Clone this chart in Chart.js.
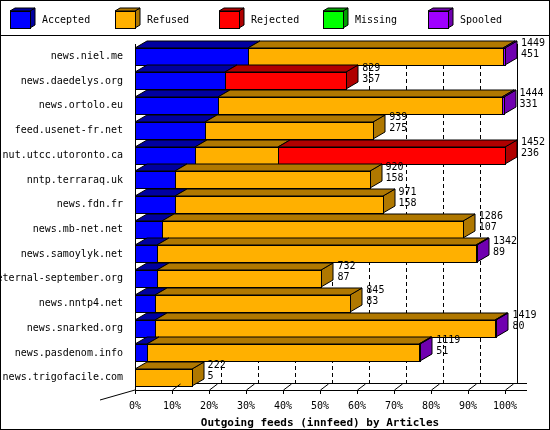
<!DOCTYPE html>
<html><head><meta charset="utf-8">
<script src="https://cdn.jsdelivr.net/npm/chart.js@4"></script>
<style>body{margin:0;background:#fff}#w{width:550px;height:430px;position:relative}</style>
</head><body><div id="w"><canvas id="c" width="550" height="430"></canvas></div>
<script>
const categories=["news.niel.me","news.daedelys.org","news.ortolo.eu","feed.usenet-fr.net","nut.utcc.utoronto.ca","nntp.terraraq.uk","news.fdn.fr","news.mb-net.net","news.samoylyk.net","eternal-september.org","news.nntp4.net","news.snarked.org","news.pasdenom.info","news.trigofacile.com"];
const accepted=[30.5,24.3,22.4,19,16.2,10.8,10.8,7.3,6,6,5.4,5.4,3.2,0];
const refused=[69,0,76.8,45.4,22.4,52.6,56.1,81.3,86.1,44.4,52.8,91.9,73.5,15.3];
const rejected=[0,32.8,0,0,61.4,0,0,0,0,0,0,0,0,0];
const missing=[0,0,0,0,0,0,0,0,0,0,0,0,0,0];
const spooled=[0.5,0,0.4,0,0,0,0,0,0.3,0,0,0.4,0.4,0];
const totals=["1449","829","1444","939","1452","920","971","1286","1342","732","845","1419","1119","222"];
const seconds=["451","357","331","275","236","158","158","107","89","87","83","80","51","5"];
const tickLabels=["0%","10%","20%","30%","40%","50%","60%","70%","80%","90%","100%"];
const names=["Accepted","Refused","Rejected","Missing","Spooled"];
const front=["#0000ff","#ffb000","#ff0000","#00ff00","#a000ff"];
const dark=["#0000a0","#b07800","#b00000","#00a000","#7000b0"];
const FONT="10px 'DejaVu Sans Mono'";
function box(ctx,x,y,w,h,i,DX,DY){
  ctx.lineWidth=1;ctx.strokeStyle="#000";
  ctx.fillStyle=dark[i];
  ctx.beginPath();ctx.moveTo(x+w,y);ctx.lineTo(x+w+DX,y-DY);ctx.lineTo(x+w+DX,y+h-DY);ctx.lineTo(x+w,y+h);ctx.closePath();ctx.fill();ctx.stroke();
  ctx.beginPath();ctx.moveTo(x,y);ctx.lineTo(x+DX,y-DY);ctx.lineTo(x+w+DX,y-DY);ctx.lineTo(x+w,y);ctx.closePath();ctx.fill();ctx.stroke();
  ctx.fillStyle=front[i];ctx.fillRect(x,y,w,h);ctx.strokeRect(x+.5,y+.5,w,h);
}
const DX=12,DY=7;
const deco={id:'deco',
 beforeDatasetsDraw(ch){const c=ch.ctx,a=ch.chartArea,xs=ch.scales.x;c.save();
  c.strokeStyle="#000";c.lineWidth=1;c.setLineDash([4,3]);
  for(let v=10;v<=90;v+=10){const x=Math.round(xs.getPixelForValue(v))+DX+.5;c.beginPath();c.moveTo(x,a.top);c.lineTo(x,a.bottom-DY);c.stroke();}
  c.setLineDash([]);
  const xr=xs.getPixelForValue(100)+DX+.5;c.beginPath();c.moveTo(xr,a.top);c.lineTo(xr,a.bottom-DY);c.stroke();
  c.beginPath();c.moveTo(a.left+DX,a.bottom-DY+.5);c.lineTo(a.right+DX+10,a.bottom-DY+.5);c.stroke();
  c.restore();},
 afterDatasetsDraw(ch){const c=ch.ctx,a=ch.chartArea,xs=ch.scales.x;c.save();
  for(let r=0;r<categories.length;r++){
   let end=0,top=0,bot=0;
   for(let d=0;d<5;d++){const el=ch.getDatasetMeta(d).data[r];const v=ch.data.datasets[d].data[r];if(!v)continue;
    const x0=Math.min(el.base,el.x),x1=Math.max(el.base,el.x);top=el.y-el.height/2;bot=el.y+el.height/2;
    box(c,Math.round(x0),Math.round(top),Math.round(x1)-Math.round(x0),Math.round(bot-top),d,DX,DY);end=x1;}
   c.fillStyle="#000";c.font=FONT;c.textAlign="left";c.textBaseline="middle";
   c.fillText(totals[r],end+DX+4,top-4);c.fillText(seconds[r],end+DX+4,top+7);
  }
  c.strokeStyle="#000";c.lineWidth=1;
  c.beginPath();c.moveTo(a.left+.5,a.top);c.lineTo(a.left+.5,a.bottom);c.stroke();
  c.beginPath();c.moveTo(a.left,a.bottom+.5);c.lineTo(a.right+DX+10,a.bottom+.5);c.stroke();
  c.beginPath();c.moveTo(a.left,a.bottom);c.lineTo(a.left-35,a.bottom+10);c.stroke();
  for(let v=0;v<=100;v+=10){const x=Math.round(xs.getPixelForValue(v))+.5;c.beginPath();c.moveTo(x,a.bottom);c.lineTo(x,a.bottom+4);c.stroke();
   if(v>0){c.beginPath();c.moveTo(x,a.bottom);c.lineTo(x+DX-4,a.bottom-DY+1);c.stroke();}}
  c.font=FONT;c.textBaseline="middle";
  const lx=[10,115,219,323,428];
  for(let i=0;i<5;i++){box(c,lx[i],11,20,17,i,5,3);c.fillStyle="#000";c.fillText(names[i],lx[i]+32,20);}
  c.beginPath();c.moveTo(0,35.5);c.lineTo(550,35.5);c.stroke();
  c.strokeRect(.5,.5,549,429);
  c.restore();}
};
const datasets=[accepted,refused,rejected,missing,spooled].map((d,i)=>({label:names[i],data:d,backgroundColor:'rgba(0,0,0,0)',borderWidth:0,barPercentage:0.7,categoryPercentage:1}));
new Chart(document.getElementById('c'),{type:'bar',data:{labels:categories,datasets},
 options:{indexAxis:'y',responsive:false,animation:false,
  layout:{padding:{top:44,right:45,left:0,bottom:0}},
  plugins:{legend:{display:false},tooltip:{enabled:false}},
  scales:{
   x:{stacked:true,min:0,max:100,grid:{display:false},border:{display:false},
      ticks:{stepSize:10,color:"#000",font:{family:"DejaVu Sans Mono",size:10},padding:2,callback:(v,i)=>tickLabels[i]},
      title:{display:true,text:"Outgoing feeds (innfeed) by Articles",color:"#000",font:{family:"DejaVu Sans Mono",size:11,weight:"bold"},padding:0},
      afterFit:s=>{s.height=40}},
   y:{stacked:true,grid:{display:false},border:{display:false},
      ticks:{color:"#000",font:{family:"DejaVu Sans Mono",size:10},padding:4},
      afterFit:s=>{s.width=135}}
  }},plugins:[deco]});
</script></body></html>
